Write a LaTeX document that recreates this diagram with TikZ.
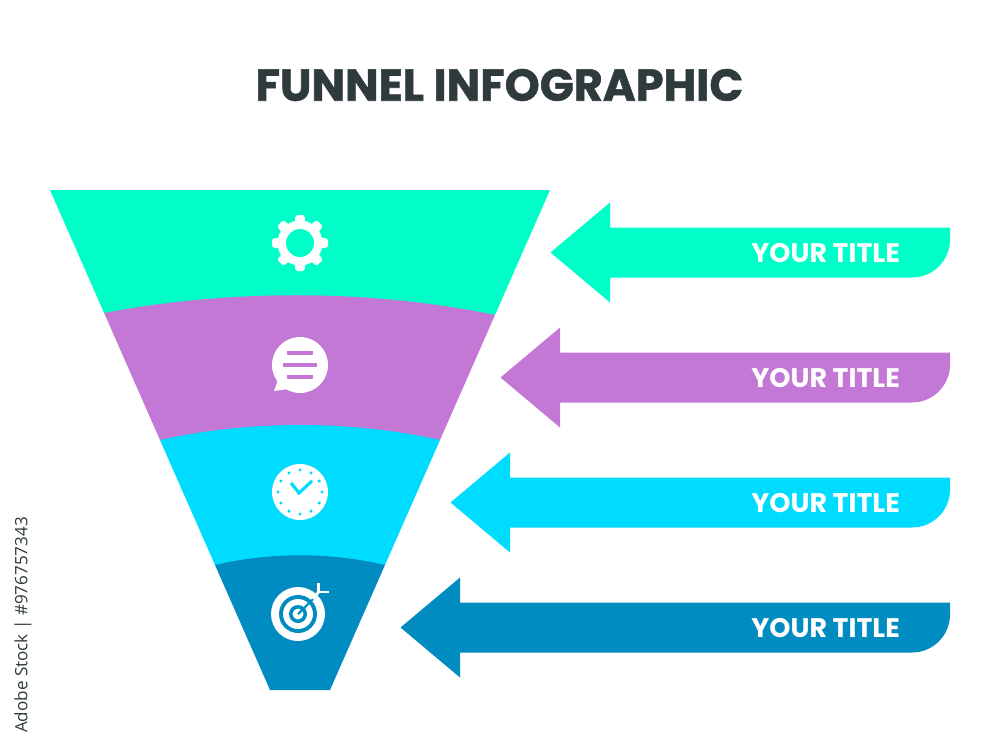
\documentclass[tikz,border=0pt]{standalone}
\usepackage{fontspec}
\usepackage{xcolor}
\usetikzlibrary{calc}
\setmainfont{Poppins}
\newfontfamily\heavyfont[BoldFeatures={FakeBold=1.2}]{Poppins}
\newfontfamily\stockfont{Open Sans}
\definecolor{bandgreen}{HTML}{00FFC8}
\definecolor{bandpurple}{HTML}{C278D4}
\definecolor{bandcyan}{HTML}{00DCFF}
\definecolor{bandblue}{HTML}{008CC0}
\definecolor{inkgrey}{HTML}{2F3A3C}
\tikzset{
  arrowlabel/.style={anchor=east, text=white, font=\fontsize{7.65}{9}\selectfont\bfseries, inner sep=0pt},
  iconline/.style={line width=0.95pt, line cap=butt}
}

\begin{document}
\begin{tikzpicture}
\useasboundingbox (0,0) rectangle (10,7.5);
% Title
\node[text=inkgrey, font=\heavyfont\fontsize{12.7}{14}\selectfont\bfseries, inner sep=0pt] (title) at (4.995,6.65) {FUNNEL INFOGRAPHIC};
% Funnel bands, each one closed under the curve of the next
\fill[bandgreen] (0.5,5.6) -- (5.5,5.6) -- (4.95,4.35) -- (1.041,4.37) -- cycle;
\fill[bandpurple] (1.041,4.37) .. controls (2.3,4.61) and (3.7,4.61) .. (4.95,4.35) -- (4.4,3.1) -- (1.6,3.1) -- cycle;
\fill[bandcyan] (1.6,3.1) .. controls (2.5,3.3) and (3.5,3.3) .. (4.4,3.1) -- (3.85,1.85) -- (2.15,1.85) -- cycle;
\fill[bandblue] (2.15,1.85) .. controls (2.7,1.98) and (3.3,1.98) .. (3.85,1.85) -- (3.3,0.6) -- (2.7,0.6) -- cycle;
% Arrows with their labels
\foreach \i/\tipx/\col in {0/5.505/bandgreen, 1/5.005/bandpurple, 2/4.505/bandcyan, 3/4.005/bandblue} {
    \pgfmathsetmacro{\y}{4.975 - \i*1.25}
    \fill[\col] (\tipx,\y) -- ++(0.595,0.5) -- ++(0,-0.25) -- (9.5,\y+0.25) -- (9.5,\y-0.25+0.38)
        arc (0:-90:0.38) -- (\tipx+0.595,\y-0.25) -- ++(0,-0.25) -- cycle;
    \node[arrowlabel] (label\i) at (9.005,\y-0.005) {YOUR TITLE};
}
% Gear
\fill[white] (3,5.07) circle (0.225);
\foreach \a in {0,45,...,315} {
    \fill[white, rounded corners=0.5pt, rotate around={\a:(3,5.07)}] (2.93,5.07) -- (2.955,5.35) -- (3.045,5.35) -- (3.07,5.07) -- cycle;
}
\fill[bandgreen] (3,5.07) circle (0.14);
% Speech bubble
\fill[white] (3,3.85) circle (0.28);
\fill[white] (2.8,3.75) -- (2.74,3.59) -- (2.95,3.62) -- cycle;
\foreach \h/\w in {0.12/0.13, 0/0.17, -0.12/0.13} {
    \draw[bandpurple, iconline] (3-\w,3.85+\h) -- (3+\w,3.85+\h);
}
% Clock
\fill[white] (3,2.58) circle (0.28);
\foreach \a in {0,30,...,330} {
    \fill[bandcyan] (3,2.58) ++(\a:0.22) circle (0.017);
}
\draw[bandcyan, line width=0.9pt] (2.91,2.67) -- (2.99,2.57) -- (3.12,2.69);
% Target
\coordinate (bull) at (2.98,1.36);
\fill[white] (bull) circle (0.27);
\fill[bandblue] (bull) circle (0.19);
\fill[white] (bull) circle (0.15);
\fill[bandblue] (bull) circle (0.09);
\fill[white] (bull) circle (0.055);
\draw[bandblue, line width=0.6pt] (bull) -- (3.16,1.54);
\draw[white, line width=0.8pt] (3.13,1.51) -- (3.185,1.58);
\draw[white, line width=0.8pt] (3.185,1.67) -- (3.185,1.58) -- (3.29,1.58);
% Stock id at the left edge
\node[rotate=90, text=inkgrey, font=\stockfont\fontsize{4.85}{6}\selectfont, inner sep=0pt] (stockid) at (0.23,1.25) {Adobe Stock | \#976757343};
\end{tikzpicture}
\end{document}
